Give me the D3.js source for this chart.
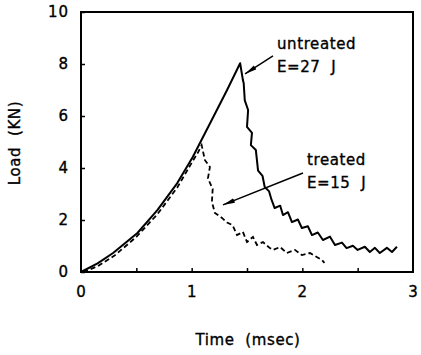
<!DOCTYPE html>
<html><head><meta charset="utf-8">
<script src="https://cdn.jsdelivr.net/npm/d3@7"></script>
<style>body{margin:0;background:#fff}svg{display:block}text{font-family:"DejaVu Sans",sans-serif;fill:#000;white-space:pre;stroke:#000;stroke-width:0.35px}</style>
</head><body><svg id="c" width="421" height="355"></svg>
<script>
const xTicks = [0, 1, 2, 3];
const xMinorTicks = [0.5, 1, 1.5, 2, 2.5];
const yTicks = [0, 2, 4, 6, 8, 10];
const xLabel = "Time  (msec)";
const yLabel = "Load  (KN)";
const untreated = [[0,0],[0.15,0.33],[0.29,0.73],[0.51,1.5],[0.69,2.38],[0.87,3.42],[1.01,4.42],[1.2,6.0],[1.32,7.0],[1.438,8.03],
 [1.463,7.38],[1.47,7.27],[1.48,6.6],[1.51,6.23],[1.50,5.58],[1.545,5.35],[1.535,4.88],[1.58,4.69],[1.60,3.9],[1.64,3.7],[1.66,3.27],
 [1.70,3.1],[1.72,2.8],[1.75,2.46],[1.80,2.55],[1.825,2.19],[1.87,2.3],[1.906,1.92],[1.96,2.02],[1.996,1.69],[2.05,1.76],[2.087,1.42],
 [2.14,1.52],[2.186,1.23],[2.25,1.36],[2.295,1.04],[2.358,1.13],[2.40,0.92],[2.457,1.01],[2.50,0.85],[2.565,0.97],[2.61,0.77],
 [2.656,0.93],[2.70,0.73],[2.764,0.93],[2.81,0.77],[2.855,0.97]];
const treated = [[0.02,0],[0.15,0.22],[0.3,0.62],[0.5,1.35],[0.69,2.22],[0.87,3.25],[1.0,4.2],[1.06,4.62],[1.09,4.88],
 [1.12,4.3],[1.165,4.04],[1.147,3.6],[1.19,3.2],[1.183,2.7],[1.21,2.27],[1.274,2.08],[1.32,1.9],[1.37,1.8],[1.41,1.42],[1.463,1.54],
 [1.50,1.15],[1.554,1.35],[1.59,1.04],[1.644,1.15],[1.707,0.92],[1.734,0.85],[1.80,0.96],[1.86,0.73],[1.933,0.85],[1.996,0.65],
 [2.07,0.73],[2.13,0.58],[2.177,0.46],[2.2,0.35]];
const annotations = [
 {lines:["untreated","E=27  J"], at:[1.771,8.577], from:[1.735,8.31], to:[1.482,7.62]},
 {lines:["treated","E=15  J"], at:[2.042,4.115], from:[2.006,3.81], to:[1.283,2.58]}
];

const svg = d3.select("#c");
const x = d3.scaleLinear().domain([0,3]).range([81,413]);
const y = d3.scaleLinear().domain([0,10]).range([272,12]);

svg.append("defs").append("marker").attr("id","ah").attr("viewBox","0 0 12 6")
 .attr("refX",12).attr("refY",3).attr("markerWidth",12).attr("markerHeight",6)
 .attr("markerUnits","userSpaceOnUse").attr("orient","auto")
 .append("path").attr("d","M0,0.6L12,3L0,5.4Z").attr("fill","#000");

svg.append("rect").attr("x",x(0)).attr("y",y(10)).attr("width",x(3)-x(0)).attr("height",y(0)-y(10))
 .attr("fill","none").attr("stroke","#000").attr("stroke-width",2);

const xa = svg.append("g").attr("transform",`translate(0,${y(0)})`)
 .call(d3.axisBottom(x).tickValues(xMinorTicks).tickSize(-4).tickFormat(""));
xa.select(".domain").remove();
xa.selectAll("line").attr("stroke-width",1.5);
svg.append("g").attr("transform",`translate(0,${y(0)})`)
 .call(d3.axisBottom(x).tickValues(xTicks).tickSize(0).tickPadding(14).tickFormat(d3.format("d")))
 .call(g=>{g.select(".domain").remove();g.selectAll("text").attr("font-size",15).style("font-family","DejaVu Sans").attr("letter-spacing",1);});

const ya = svg.append("g").attr("transform",`translate(${x(0)},0)`)
 .call(d3.axisLeft(y).tickValues(yTicks).tickSize(-4).tickPadding(12).tickFormat(d3.format("d")));
ya.select(".domain").remove();
ya.selectAll("line").attr("stroke-width",1.5);
ya.selectAll("text").attr("font-size",15).style("font-family","DejaVu Sans").attr("letter-spacing",1);

svg.append("text").attr("x",248).attr("y",345).attr("text-anchor","middle")
 .attr("font-size",15).attr("letter-spacing",0.6).text(xLabel);
svg.append("text").attr("transform","translate(20,143) rotate(-90)").attr("text-anchor","middle")
 .attr("font-size",15).attr("letter-spacing",0.6).text(yLabel);

const line = d3.line().x(d=>x(d[0])).y(d=>y(d[1]));
svg.append("path").datum(untreated).attr("d",line).attr("fill","none").attr("stroke","#000")
 .attr("stroke-width",2).attr("stroke-linejoin","round");
svg.append("path").datum(treated).attr("d",line).attr("fill","none").attr("stroke","#000")
 .attr("stroke-width",1.8).attr("stroke-dasharray","5,3");

annotations.forEach(a=>{
 const t = svg.append("text").attr("x",x(a.at[0])).attr("y",y(a.at[1])).attr("font-size",15).attr("letter-spacing",0.6);
 a.lines.forEach((s,i)=>t.append("tspan").attr("x",x(a.at[0])).attr("dy",i?23:0).text(s));
 svg.append("line").attr("x1",x(a.from[0])).attr("y1",y(a.from[1])).attr("x2",x(a.to[0])).attr("y2",y(a.to[1]))
  .attr("stroke","#000").attr("stroke-width",1.5).attr("marker-end","url(#ah)");
});
</script></body></html>
